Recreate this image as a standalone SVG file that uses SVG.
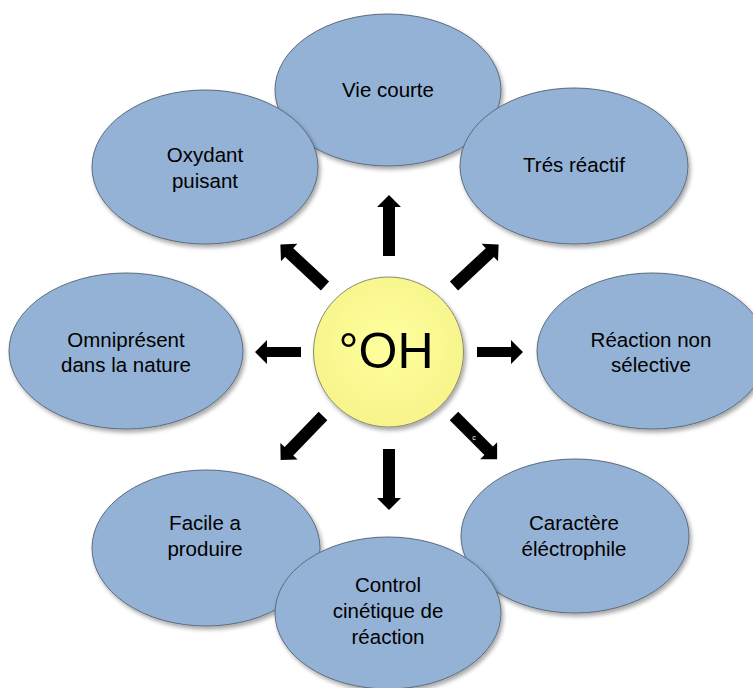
<svg xmlns="http://www.w3.org/2000/svg" width="753" height="688" viewBox="0 0 753 688">
<defs>
<filter id="sh" x="-10%" y="-10%" width="125%" height="125%">
<feGaussianBlur in="SourceAlpha" stdDeviation="2"/>
<feOffset dx="2" dy="3"/>
<feComponentTransfer><feFuncA type="linear" slope="0.35"/></feComponentTransfer>
<feMerge><feMergeNode/><feMergeNode in="SourceGraphic"/></feMerge>
</filter>
<radialGradient id="yg" cx="50%" cy="45%" r="55%">
<stop offset="0" stop-color="#ffff9e"/>
<stop offset="1" stop-color="#f6f48a"/>
</radialGradient>
<path id="arr" d="M0,-6 L49,-6 L49,-12 L61,0 L49,12 L49,6 L0,6 Z"/>
<path id="arrs" d="M0,-5 L34,-5 L34,-12 L46,0 L34,12 L34,5 L0,5 Z"/>
</defs>
<style>
.bub{fill:#94b2d6;stroke:#5d6b7d;stroke-width:1;filter:url(#sh)}
.t{font-family:"Liberation Sans",Arial,sans-serif;font-size:20.5px;fill:#000;text-anchor:middle}
.a{fill:#000}
</style>
<rect width="753" height="688" fill="#fff"/>
<g id="n-vie-courte"><ellipse class="bub" cx="388" cy="90" rx="113" ry="76"/><text class="t" x="388" y="97">Vie courte</text></g>
<g id="n-oxydant"><ellipse class="bub" cx="205" cy="167" rx="113" ry="77"/><text class="t" x="205" y="162">Oxydant</text><text class="t" x="205" y="188">puisant</text></g>
<g id="n-tres-reactif"><ellipse class="bub" cx="574" cy="166" rx="114" ry="78"/><text class="t" x="574" y="172">Trés réactif</text></g>
<g id="n-omnipresent"><ellipse class="bub" cx="126" cy="351" rx="117" ry="78"/><text class="t" x="126" y="347">Omniprésent</text><text class="t" x="126" y="372">dans la nature</text></g>
<g id="n-reaction"><ellipse class="bub" cx="652" cy="351" rx="115" ry="78"/><text class="t" x="651" y="347">Réaction non</text><text class="t" x="651" y="372">sélective</text></g>
<g id="n-facile"><ellipse class="bub" cx="206" cy="548" rx="114" ry="78"/><text class="t" x="205" y="530">Facile a</text><text class="t" x="205" y="556">produire</text></g>
<g id="n-caractere"><ellipse class="bub" cx="575" cy="536" rx="114" ry="77"/><text class="t" x="574" y="530">Caractère</text><text class="t" x="574" y="556">éléctrophile</text></g>
<g id="n-control"><ellipse class="bub" cx="388" cy="613" rx="113" ry="76"/><text class="t" x="388" y="592">Control</text><text class="t" x="388" y="618">cinétique de</text><text class="t" x="388" y="644">réaction</text></g>
<g id="n-oh"><circle cx="388.5" cy="352" r="75" fill="url(#yg)" stroke="#8a8a70" stroke-width="1" filter="url(#sh)"/><text x="386" y="368" font-family="Liberation Sans,Arial,sans-serif" font-size="50" text-anchor="middle" fill="#000">°OH</text></g>
<g id="connectors">
<use href="#arr" class="a" transform="translate(389,256) rotate(-90)"/>
<use href="#arr" class="a" transform="translate(389,449) rotate(90)"/>
<use href="#arrs" class="a" transform="translate(301,352) rotate(180)"/>
<use href="#arrs" class="a" transform="translate(477,352)"/>
<use href="#arr" class="a" transform="translate(325,286) rotate(-137)"/>
<use href="#arr" class="a" transform="translate(454,286) rotate(-43)"/>
<use href="#arr" class="a" transform="translate(323,416) rotate(134)"/>
<use href="#arr" class="a" transform="translate(454,416) rotate(45)"/>
<text x="474" y="440" font-family="Liberation Sans,Arial,sans-serif" font-size="7" fill="#fff" text-anchor="middle">c</text>
</g>
</svg>
